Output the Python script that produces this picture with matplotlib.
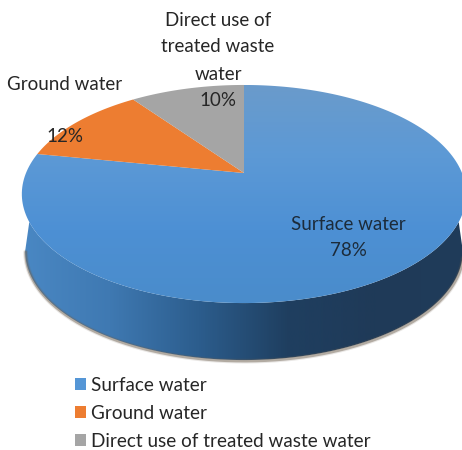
import numpy as np
from matplotlib import pyplot as plt
from matplotlib.colors import LinearSegmentedColormap
from matplotlib.patches import Polygon, Patch

labels = ["Surface water", "Ground water", "Direct use of treated waste water"]
shares = [78, 12, 10]
colors = ["#5596d6", "#ed7d31", "#a5a5a5"]
side_stops = ["#4a88c4", "#3f79b2", "#2c5d8d", "#1f3f60", "#1f3a58", "#203c5a"]
top_stops = ["#6a9bcb", "#5c99d6", "#4d90d4", "#4a8ccb"]

# tilted disc: apex position, half width and the perspective factor
cx, cy = 244, 173
sx, sy, k = 218, 105, 0.1927
depth = 57


def project(theta, dy=0, shrink=1.0):
    x = np.sin(theta)
    y = np.cos(theta)
    d = 1 + k * y
    return np.column_stack([cx + shrink * sx * x / d, cy - sy * y / d + dy])


fig = plt.figure(figsize=(4.62, 4.5), dpi=100)
ax = fig.add_axes([0, 0, 1, 1])
plt.rcParams["font.family"] = "Lato"

# side wall, shaded left to right; it only shows below the widest part of the disc
th0 = np.arccos(-k)
arc = np.linspace(th0, 2 * np.pi - th0, 300)
upper = project(arc)
upper = upper[upper[:, 1] > 222]
lower = project(arc, depth, 0.985)
wall = np.vstack([upper, lower[::-1]])

# soft shadow under the rim
for lw, alpha in [(3.5, 0.15), (2, 0.45)]:
    ax.plot(lower[:, 0] + 0.5, lower[:, 1] + 1, color="#6f6252", lw=lw, alpha=alpha, solid_capstyle="round")

side_cmap = LinearSegmentedColormap.from_list("side", side_stops)
img = ax.imshow(np.linspace(0, 1, 256)[None, :], cmap=side_cmap, aspect="auto", extent=(20, 466, 450, 0))
img.set_clip_path(Polygon(wall, transform=ax.transData))

# top face, one sector per share, clockwise from twelve o'clock
edges = np.concatenate([[0], np.cumsum(shares)]) / sum(shares) * 2 * np.pi
top_cmap = LinearSegmentedColormap.from_list("top", top_stops)
for i in range(len(shares)):
    t = np.linspace(edges[i], edges[i + 1], 200)
    sector = np.vstack([[cx, cy], project(t)])
    if i == 0:
        grad = ax.imshow(np.linspace(0, 1, 256)[:, None], cmap=top_cmap, aspect="auto", extent=(0, 470, 303, 85))
        grad.set_clip_path(Polygon(sector, transform=ax.transData))
    else:
        ax.add_patch(Polygon(sector, fc=colors[i], ec="none"))

# data labels
ink = "#262626"
ax.text(348, 225, "Surface water", ha="center", va="center", fontsize=13.5, color="#1c2b3a")
ax.text(348, 251, f"{shares[0]}%", ha="center", va="center", fontsize=13.5, color="#1c2b3a")
ax.text(65, 84, "Ground water", ha="center", va="center", fontsize=13.5, color=ink)
ax.text(65, 136, f"{shares[1]}%", ha="center", va="center", fontsize=13.5, color=ink)
for y, line in zip([21, 47, 74], ["Direct use of", "treated waste", "water"]):
    ax.text(218, y, line, ha="center", va="center", fontsize=13.5, color=ink)
ax.text(218, 100, f"{shares[2]}%", ha="center", va="center", fontsize=13.5, color=ink)

handles = [Patch(fc=c, ec="none") for c in colors]
ax.legend(handles, labels, loc="upper left", bbox_to_anchor=(75 / 462, 1 - 377 / 450), frameon=False,
          fontsize=13.6, labelcolor=ink, handlelength=0.6, handleheight=0.6, handletextpad=0.27,
          labelspacing=0.58, borderpad=0, borderaxespad=0)

ax.set_xlim(0, 462)
ax.set_ylim(450, 0)
ax.axis("off")
fig.savefig("out.png", dpi=100)
